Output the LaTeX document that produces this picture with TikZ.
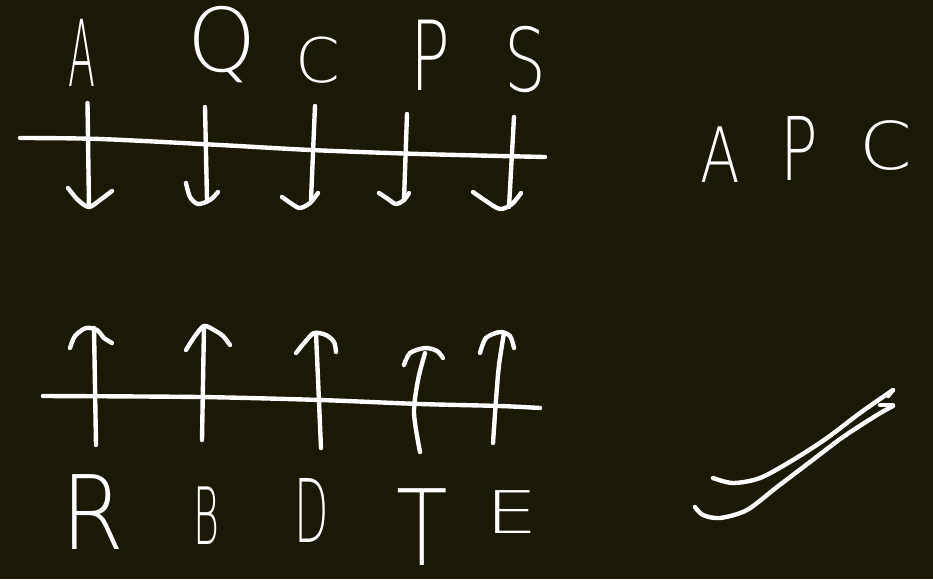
\documentclass[tikz,border=0pt]{standalone}
\usepackage{fontspec}
\newfontfamily\hand{DejaVu Sans ExtraLight}
\definecolor{bg}{RGB}{27,25,6}
\tikzset{
  ink/.style={draw=white,line width=2.5pt,line cap=round,line join=round},
  hw/.style={text=white,inner sep=0pt,transform shape,font=\hand\fontsize{50}{50}\selectfont}
}
\begin{document}
\begin{tikzpicture}[x=0.02cm,y=-0.02cm]
\fill[bg] (0,0) rectangle (933,579);
\useasboundingbox (0,0) rectangle (933,579);
% top letters
\node[hw,xscale=0.45,yscale=1.05] (tA) at (82,53) {A};
\node[hw,xscale=1.0,yscale=1.0] (tQ) at (222,45) {Q};
\node[hw,xscale=0.73,yscale=0.7] (tC) at (318,60) {C};
\node[hw,xscale=0.75,yscale=1.1] (tP) at (430,55) {P};
\node[hw,xscale=0.75,yscale=1.0] (tS) at (525,60) {S};
% top line
\draw[ink] plot[smooth] coordinates {(20,138) (100,139) (220,145) (311,150) (420,154) (545,157)};
% down arrows
\draw[ink] (87.5,103) -- (89,207);
\draw[ink] plot[smooth] coordinates {(68,188) (78,200) (89,207) (100,200) (112,191)};
\draw[ink] (205,107) -- (207,200);
\draw[ink] plot[smooth] coordinates {(186,183) (190,197) (198,204) (210,200) (218,192)};
\draw[ink] (315,106) -- (311,200);
\draw[ink] plot[smooth] coordinates {(282,197) (292,204) (300,208) (310,203) (318,193)};
\draw[ink] (407,114) -- (404,200);
\draw[ink] plot[smooth] coordinates {(379,193) (388,199) (396,204) (404,200) (409,193)};
\draw[ink] (514,117) -- (509,207);
\draw[ink] plot[smooth] coordinates {(473,192) (486,201) (500,209) (512,204) (521,193)};
% bottom line
\draw[ink] plot[smooth] coordinates {(43,396) (200,397) (320,400) (420,404) (500,406) (540,408)};
% up arrows
\draw[ink] (96,445) -- (94,328);
\draw[ink] plot[smooth] coordinates {(70,348) (75,336) (86,328) (97,330) (104,338) (112,343)};
\draw[ink] (202,440) -- (204,326);
\draw[ink] plot[smooth] coordinates {(186,350) (195,336) (204,326) (214,330) (223,336) (230,345)};
\draw[ink] (321,448) -- (316,333);
\draw[ink] plot[smooth] coordinates {(296,353) (305,342) (314,333) (326,335) (334,342) (336,352)};
\draw[ink] plot[smooth] coordinates {(420,452) (414,413) (418,380) (425,353)};
\draw[ink] plot[smooth] coordinates {(404,365) (410,353) (425,348) (437,351) (443,358)};
\draw[ink] plot[smooth] coordinates {(493,443) (496,400) (499,365) (504,333)};
\draw[ink] plot[smooth] coordinates {(480,353) (486,338) (500,332) (510,336) (514,348)};
% bottom letters
\node[hw,xscale=1.03,yscale=1.17] (bR) at (93,512) {R};
\node[hw,xscale=0.45,yscale=0.9] (bB) at (206,516) {B};
\node[hw,xscale=0.51,yscale=1.0] (bD) at (312,510) {D};
\node[hw,xscale=0.96,yscale=1.2] (bT) at (422,527) {T};
\node[hw,xscale=0.95,yscale=0.67] (bE) at (512,512) {E};
% right letters
\node[hw,xscale=0.66,yscale=0.87] (rA) at (720,155) {A};
\node[hw,xscale=0.71,yscale=1.0] (rP) at (799,148) {P};
\node[hw,xscale=0.86,yscale=0.75] (rC) at (886,146) {C};
% tick strokes
\draw[ink] plot[smooth] coordinates {(713,478) (733,483) (760,478) (793,460) (827,438) (860,413) (893,390)};
\draw[ink] (893,390) -- (888,396);
\draw[ink] (880,405) -- (893,405);
\draw[ink] plot[smooth] coordinates {(893,406) (877,415) (843,437) (810,462) (777,487) (747,510) (720,518) (703,515) (695,507)};
\end{tikzpicture}
\end{document}
